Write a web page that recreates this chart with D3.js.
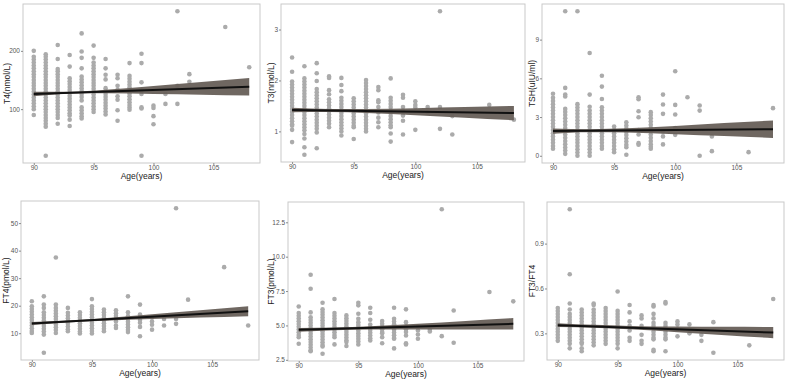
<!DOCTYPE html>
<html>
<head>
<meta charset="utf-8">
<script src="https://cdn.jsdelivr.net/npm/d3@7"></script>
<style>
  body { margin: 0; background: #fff; }
  svg { font-family: "Liberation Sans", Arial, sans-serif; }
  .axis path { stroke: none; }
  .axis line { stroke: #8c8c8c; }
  .axis text { fill: #555; font-size: 6.5px; }
</style>
</head>
<body>
<div id="chart"></div>
<script>
// ages shared by all panels (one column of points per age)
const ages = [90, 91, 92, 93, 94, 95, 96, 97, 98, 99, 100, 101, 102, 103, 106, 108];
const xTicks = [90, 95, 100, 105];

// values per age, same order as ages
const t4 = [
  [200,190,185,180,175,170,165,160,155,150,145,140,135,130,125,120,115,110,105,100,90],
  [194,190,185,180,175,170,165,160,155,150,145,140,135,130,125,120,115,110,105,100,95,90,85,80,75,70,20],
  [210,186,169,165,160,155,150,145,140,135,130,125,120,115,110,105,100,95,90,85,75],
  [193,173,153,148,143,138,133,128,123,118,113,108,103,98,93,89,82,71],
  [230,199,188,170,156,151,146,141,136,131,126,121,115,103,98,93,88,84],
  [209,188,180,175,170,165,160,155,150,145,140,135,130,125,120,115,110,105,100,95],
  [186,170,159,151,136,131,126,121,116,111,106,101,96,91],
  [159,153,140,133,122,116,98,80],
  [179,157,152,147,142,137,132,127,122,117,112,107,103,99],
  [195,179,146,132,126,103,101,20],
  [106,102,88,74],
  [126,109],
  [268,140,109],
  [160,147],
  [241],
  [172]
];
const t3 = [
  [2.45,2.17,1.98,1.92,1.86,1.8,1.74,1.68,1.62,1.56,1.5,1.44,1.38,1.32,1.26,1.2,1.14,1.11,1.03,0.79],
  [2.28,2.04,1.98,1.92,1.86,1.8,1.74,1.68,1.62,1.56,1.5,1.44,1.38,1.32,1.26,1.2,1.14,1.08,1.02,0.95,0.86,0.69,0.54],
  [2.34,2.14,1.99,1.83,1.77,1.71,1.65,1.59,1.53,1.47,1.41,1.35,1.29,1.23,1.17,1.11,1.05,0.98,0.67],
  [2.08,2.05,1.81,1.73,1.63,1.57,1.51,1.45,1.39,1.33,1.27,1.21,1.15,1.08],
  [2.05,1.91,1.79,1.66,1.6,1.54,1.48,1.42,1.36,1.3,1.24,1.18,1.12,1.06,1.0,0.92],
  [1.65,1.59,1.53,1.47,1.41,1.35,1.29,1.23,1.17,1.11,1.08,0.85],
  [2.01,1.95,1.89,1.83,1.77,1.71,1.65,1.59,1.53,1.47,1.41,1.35,1.29,1.23,1.17,1.11,1.05,1.0],
  [1.87,1.81,1.61,1.57,1.48,1.37,1.27,1.18,1.08],
  [2.04,1.66,1.6,1.54,1.48,1.42,1.36,1.3,1.24,1.18,1.12,1.08,0.96,0.8],
  [1.72,1.66,1.48,1.4,1.31,1.21,0.94],
  [1.59,1.52,1.47,1.03],
  [1.48,1.37],
  [3.36,1.48,1.05],
  [1.3,0.94],
  [1.52],
  [1.23]
];
const tsh = [
  [4.8,4.5,4.25,4.0,3.75,3.5,3.25,3.0,2.75,2.5,2.25,2.0,1.75,1.5,1.25,1.0,0.75,0.54],
  [11.2,5.26,4.74,4.6,3.63,3.4,3.15,2.9,2.65,2.4,2.15,1.9,1.65,1.4,1.15,0.9,0.65,0.4,0.15],
  [11.2,4.0,3.75,3.5,3.25,3.0,2.75,2.5,2.25,2.0,1.75,1.5,1.25,1.0,0.75,0.5,0.25,0],
  [7.96,4.74,3.8,3.5,3.25,3.0,2.75,2.5,2.25,2.0,1.75,1.5,1.25,1.0,0.75,0.5,0.25,0],
  [6.2,5.36,4.4,3.76,3.5,3.25,3.0,2.75,2.5,2.25,2.0,1.75,1.5,1.25,1.0,0.75,0.54],
  [2.27,2.0,1.75,1.5,1.25,1.0,0.75,0.5,0.28],
  [2.6,2.35,2.1,1.85,1.6,1.35,1.1,0.85,0.67,0.08],
  [4.54,4.38,3.45,2.99,2.0,1.65,0.98,0.85],
  [3.38,3.15,2.9,2.65,2.4,2.15,1.9,1.65,1.4,1.15,0.9,0.7,0.54],
  [4.74,3.97,3.25,1.88,1.5,0.88],
  [6.55,3.94,3.2,2.14,1.62],
  [4.54],
  [3.89,3.5,0],
  [1.5,0.36],
  [0.28],
  [3.69]
];
const ft4 = [
  [21.6,19.8,18.8,17.8,16.8,15.8,14.8,13.8,12.8,11.8,10.8,10.1],
  [23.4,20.4,19.2,17.6,16.6,15.6,14.6,13.6,12.6,11.6,10.6,9.5,2.9],
  [37.5,20.4,19.2,18.2,17.2,16.2,15.2,14.2,13.2,12.2,11.2,10.1],
  [19.2,17.4,16.4,15.4,14.4,13.4,12.4,11.4,10.7],
  [17.6,16.6,15.6,14.6,13.6,12.6,11.6,10.6,9.9],
  [22.4,19.8,18.8,17.8,16.8,15.8,14.8,13.8,12.8,11.8,10.8,9.9],
  [18.6,17.6,16.6,15.6,14.6,13.6,12.6,11.6,10.7],
  [18.3,17.3,16.3,15.3,14.3,12.8,11.9],
  [23.4,17.6,16.2,15.2,14.2,13.2,12.2,11.2,10.4],
  [20.4,16.8,15.8,14.8,13.8,12.3,8.9],
  [15.8,14.3,13.1,11.3],
  [15.2,12.8],
  [55.4,15.2,13.4],
  [22.2,16.6],
  [34],
  [12.8]
];
const ft3 = [
  [6.38,5.9,5.7,5.5,5.3,5.1,4.9,4.7,4.5,4.3,4.15,3.67],
  [8.69,7.67,5.95,5.6,5.4,5.2,5.0,4.8,4.6,4.4,4.2,4.0,3.8,3.6,3.4,3.2,3.13],
  [6.65,6.17,5.97,5.77,5.57,5.37,5.17,4.97,4.77,4.57,4.37,4.17,3.97,3.77,3.57,3.47,2.94],
  [6.92,5.9,5.7,5.5,5.3,5.1,4.9,4.7,4.5,4.3,4.15,3.62],
  [5.73,5.53,5.33,5.13,4.93,4.73,4.53,4.33,4.13,3.93,3.79,3.5],
  [6.65,6.46,5.85,5.49,5.24,5.04,4.84,4.64,4.44,4.24,4.04,3.84,3.62],
  [6.29,5.9,5.41,5.07,4.87,4.67,4.47,4.27,4.07,3.91],
  [5.32,5.12,4.92,4.72,4.52,4.44,4.15,3.71],
  [6.29,5.49,5.29,5.09,4.89,4.69,4.49,4.29,4.09,4.03,3.33],
  [6.17,5.24,4.93,4.73,4.53,4.27,3.71,3.62],
  [4.93,4.64,4.34,4.03],
  [4.68,4.56],
  [13.45,4.22],
  [6.09,3.74],
  [7.43],
  [6.75]
];
const ratio = [
  [0.47,0.45,0.43,0.41,0.39,0.37,0.35,0.33,0.31,0.29,0.27,0.25],
  [1.13,0.695,0.5,0.46,0.43,0.41,0.39,0.37,0.35,0.33,0.31,0.29,0.27,0.25,0.23,0.2],
  [0.46,0.44,0.42,0.4,0.38,0.36,0.34,0.32,0.3,0.28,0.26,0.24,0.23,0.2,0.18],
  [0.5,0.49,0.46,0.44,0.42,0.4,0.38,0.36,0.34,0.32,0.3,0.28,0.26,0.24,0.22],
  [0.47,0.45,0.43,0.41,0.39,0.37,0.35,0.33,0.31,0.29,0.27,0.25,0.23],
  [0.58,0.45,0.43,0.41,0.39,0.37,0.35,0.33,0.31,0.29,0.27,0.25,0.23,0.2],
  [0.49,0.44,0.38,0.35,0.32,0.27,0.25],
  [0.42,0.4,0.35,0.29,0.25,0.23],
  [0.49,0.48,0.43,0.4,0.37,0.35,0.33,0.31,0.29,0.27,0.26,0.19,0.18],
  [0.51,0.5,0.37,0.35,0.33,0.31,0.29,0.27,0.26,0.18],
  [0.38,0.36,0.33,0.28],
  [0.36,0.3],
  [0.29,0.25],
  [0.375,0.17],
  [0.22],
  [0.53]
];

// fitted line (at age 90 and 108) and confidence band read at bandAges
const fitAges = [90, 108];
const bandAges = [90, 93, 96, 100, 104, 108];
const t4Fit = [126, 138.6];
const t4Lo = [122, 126.3, 127.1, 126.1, 124.9, 123.6];
const t4Hi = [130, 129.9, 133.3, 139.9, 146.7, 153.6];
const t3Fit = [1.42, 1.36];
const t3Lo = [1.375, 1.38, 1.362, 1.319, 1.27, 1.22];
const t3Hi = [1.465, 1.44, 1.438, 1.455, 1.477, 1.5];
const tshFit = [1.91, 2.06];
const tshLo = [1.71, 1.82, 1.8, 1.67, 1.53, 1.38];
const tshHi = [2.11, 2.06, 2.13, 2.31, 2.53, 2.74];
const ft4Fit = [13.5, 18];
const ft4Lo = [12.95, 13.9, 14.54, 15.14, 15.67, 16.2];
const ft4Hi = [14.05, 14.6, 15.46, 16.86, 18.33, 19.8];
const ft3Fit = [4.68, 5.12];
const ft3Lo = [4.54, 4.65, 4.71, 4.71, 4.71, 4.7];
const ft3Hi = [4.82, 4.85, 4.95, 5.13, 5.33, 5.54];
const ratioFit = [0.355, 0.305];
const ratioLo = [0.342, 0.337, 0.327, 0.308, 0.288, 0.268];
const ratioHi = [0.368, 0.357, 0.35, 0.346, 0.344, 0.343];

const panels = [
  {title: "T4(nmol/L)", values: t4, fit: t4Fit, lo: t4Lo, hi: t4Hi, ticks: [100, 200], fmt: d3.format("d"),
   box: {left: 23, right: 260, top: 4, bottom: 163}, titleX: 7},
  {title: "T3(nmol/L)", values: t3, fit: t3Fit, lo: t3Lo, hi: t3Hi, ticks: [1, 2, 3], fmt: d3.format("d"),
   box: {left: 281, right: 525, top: 4, bottom: 162}, titleX: 271},
  {title: "TSH(uIU/ml)", values: tsh, fit: tshFit, lo: tshLo, hi: tshHi, ticks: [0, 3, 6, 9], fmt: d3.format("d"),
   box: {left: 542, right: 784, top: 4, bottom: 163}, titleX: 532},
  {title: "FT4(pmol/L)", values: ft4, fit: ft4Fit, lo: ft4Lo, hi: ft4Hi, ticks: [10, 20, 30, 40, 50], fmt: d3.format("d"),
   box: {left: 21, right: 259, top: 201, bottom: 360}, titleX: 6},
  {title: "FT3(pmol/L)", values: ft3, fit: ft3Fit, lo: ft3Lo, hi: ft3Hi, ticks: [2.5, 5, 7.5, 10, 12.5], fmt: d3.format(".1f"),
   box: {left: 288, right: 524, top: 202, bottom: 361}, titleX: 271},
  {title: "FT3/FT4", values: ratio, fit: ratioFit, lo: ratioLo, hi: ratioHi, ticks: [0.3, 0.6, 0.9], fmt: d3.format(".1f"),
   box: {left: 547, right: 784, top: 202, bottom: 360}, titleX: 532}
];

const svg = d3.select("#chart").append("svg")
  .attr("width", 790)
  .attr("height", 380);

// ggplot style 5% expansion
function expand(ext) {
  const pad = (ext[1] - ext[0]) * 0.05;
  return [ext[0] - pad, ext[1] + pad];
}

panels.forEach(p => {
  const b = p.box;
  const points = [];
  ages.forEach((a, i) => p.values[i].forEach(v => points.push({age: a, v: v})));

  const x = d3.scaleLinear().domain(expand(d3.extent(ages))).range([b.left, b.right]);
  const y = d3.scaleLinear().domain(expand(d3.extent(points, d => d.v))).range([b.bottom, b.top]);

  const g = svg.append("g");

  g.append("g")
    .selectAll("circle")
    .data(points)
    .join("circle")
    .attr("cx", d => x(d.age))
    .attr("cy", d => y(d.v))
    .attr("r", 2.3)
    .attr("fill", "#ababab");

  const band = bandAges.map((a, i) => ({age: a, lo: p.lo[i], hi: p.hi[i]}));
  g.append("path")
    .datum(band)
    .attr("fill", "#675f59")
    .attr("fill-opacity", 0.95)
    .attr("d", d3.area()
      .x(d => x(d.age))
      .y0(d => y(d.lo))
      .y1(d => y(d.hi))
      .curve(d3.curveMonotoneX));

  g.append("path")
    .datum(fitAges.map((a, i) => ({age: a, v: p.fit[i]})))
    .attr("fill", "none")
    .attr("stroke", "#111")
    .attr("stroke-width", 2)
    .attr("d", d3.line().x(d => x(d.age)).y(d => y(d.v)));

  g.append("rect")
    .attr("x", b.left)
    .attr("y", b.top)
    .attr("width", b.right - b.left)
    .attr("height", b.bottom - b.top)
    .attr("fill", "none")
    .attr("stroke", "#c9c9c9")
    .attr("stroke-width", 1);

  g.append("g")
    .attr("class", "axis")
    .attr("transform", `translate(0,${b.bottom})`)
    .call(d3.axisBottom(x).tickValues(xTicks).tickSize(2).tickPadding(0.5));

  g.append("g")
    .attr("class", "axis")
    .attr("transform", `translate(${b.left},0)`)
    .call(d3.axisLeft(y).tickValues(p.ticks).tickFormat(p.fmt).tickSize(2).tickPadding(1));

  g.append("text")
    .attr("x", (b.left + b.right) / 2)
    .attr("y", b.bottom + 16)
    .attr("text-anchor", "middle")
    .attr("font-size", 8.5)
    .attr("fill", "#222")
    .text("Age(years)");

  g.append("text")
    .attr("transform", `translate(${p.titleX},${(b.top + b.bottom) / 2}) rotate(-90)`)
    .attr("text-anchor", "middle")
    .attr("dy", "0.35em")
    .attr("font-size", 8.5)
    .attr("fill", "#222")
    .text(p.title);
});
</script>
</body>
</html>
